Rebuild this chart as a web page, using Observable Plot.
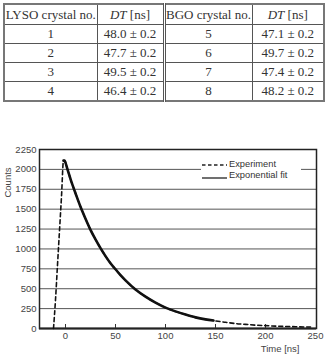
<!DOCTYPE html>
<html>
<head>
<meta charset="utf-8">
<script src="https://cdn.jsdelivr.net/npm/d3@7"></script>
<script src="https://cdn.jsdelivr.net/npm/@observablehq/plot@0.6"></script>
<style>
  html, body { margin: 0; padding: 0; background: #fff; }
  body { width: 327px; height: 360px; position: relative; overflow: hidden; }
  #tbl { position: absolute; left: 3px; top: 3px; width: 320px; border-collapse: collapse;
         font-family: "Liberation Serif", "Times New Roman", serif; font-size: 13px; color: #333;
         border: 2px solid #777; table-layout: fixed; }
  #tbl td { border: 1px solid #555; text-align: center; padding: 0; height: 18px; line-height: 18px; }
  #tbl tr.h td { height: 19px; }
  #tbl td.mid { border-left: 3px double #555; }
  #chart { position: absolute; left: 0; top: 140px; }
  #legend { position: absolute; left: 201px; top: 158px; width: 100px; height: 23px; background: #fff;
            font-family: "Liberation Sans", Arial, sans-serif; font-size: 9.3px; color: #333; }
  #legend .row { position: absolute; left: 0; height: 11px; line-height: 11px; white-space: nowrap; }
  #legend svg { position: absolute; left: 0; top: 0; }
  #legend span { position: absolute; left: 28px; top: 0; }
</style>
</head>
<body>
<table id="tbl"></table>
<div id="chart"></div>
<div id="legend"></div>
<script>
// ---- table data ----
const tableHeader = ["LYSO crystal no.", "DT [ns]", "BGO crystal no.", "DT [ns]"];
const lysoNo = [1, 2, 3, 4];
const lysoDT = ["48.0 ± 0.2", "47.7 ± 0.2", "49.5 ± 0.2", "46.4 ± 0.2"];
const bgoNo = [5, 6, 7, 8];
const bgoDT = ["47.1 ± 0.2", "49.7 ± 0.2", "47.4 ± 0.2", "48.2 ± 0.2"];

// ---- chart data ----
const expTime = [-12, -10, -8, -6, -4, -2, -1, 0, 2, 4, 6, 8, 10, 15, 20, 25, 30, 35, 40, 45, 50, 55, 60, 70, 80, 90, 100, 110, 120, 130, 140, 150, 160, 170, 180, 190, 200, 210, 220, 230, 240, 245];
const expCounts = [0, 360, 800, 1230, 1660, 2110, 2110, 2085, 2000, 1920, 1840, 1770, 1700, 1530, 1380, 1240, 1120, 1010, 910, 820, 745, 670, 605, 490, 400, 325, 262, 215, 175, 140, 115, 95, 78, 62, 52, 42, 36, 30, 26, 22, 19, 18];
const fitTime = [-2, -1, 0, 2, 4, 6, 8, 10, 15, 20, 25, 30, 35, 40, 45, 50, 55, 60, 70, 80, 90, 100, 110, 120, 130, 140, 148];
const fitCounts = [2110, 2110, 2085, 2000, 1920, 1840, 1770, 1700, 1530, 1380, 1240, 1120, 1010, 910, 820, 745, 670, 605, 490, 400, 325, 262, 215, 175, 140, 115, 100];
const xTicks = [0, 50, 100, 150, 200, 250];
const yTicks = [0, 250, 500, 750, 1000, 1250, 1500, 1750, 2000, 2250];
const legendLabels = ["Experiment", "Exponential fit"];
const xLabel = "Time [ns]";
const yLabel = "Counts";

// ---- build table ----
const tbl = document.getElementById("tbl");
const cg = document.createElement("colgroup");
[93, 67, 88, 72].forEach(w => { const c = document.createElement("col"); c.style.width = w + "px"; cg.appendChild(c); });
tbl.appendChild(cg);
function cellHTML(t) {
  return t.startsWith("DT") ? "<i>DT</i>" + t.slice(2) : t;
}
const hr = tbl.insertRow(); hr.className = "h";
tableHeader.forEach((t, i) => { const c = hr.insertCell(); c.innerHTML = cellHTML(t); if (i === 2) c.className = "mid"; });
lysoNo.forEach((n, i) => {
  const r = tbl.insertRow();
  [String(n), lysoDT[i], String(bgoNo[i]), bgoDT[i]].forEach((t, j) => {
    const c = r.insertCell(); c.textContent = t; if (j === 2) c.className = "mid";
  });
});

// ---- chart ----
const expData = expTime.map((t, i) => ({t, c: expCounts[i]}));
const fitData = fitTime.map((t, i) => ({t, c: fitCounts[i]}));
const innerTicks = xTicks.slice(0, -1);
const fmt = d => String(d);

const chart = Plot.plot({
  width: 327,
  height: 220,
  marginLeft: 39,
  marginRight: 11,
  marginTop: 9,
  marginBottom: 32,
  style: {fontFamily: "'Liberation Sans', Arial, sans-serif", fontSize: "9.5px", color: "#444", background: "transparent"},
  x: {domain: [-26, 251]},
  y: {domain: [0, 2250]},
  marks: [
    Plot.gridY(yTicks, {stroke: "#555", strokeOpacity: 1, strokeWidth: 1}),
    Plot.frame({stroke: "#222", strokeWidth: 1.5}),
    Plot.ruleY([0], {stroke: "#222", strokeWidth: 2.2}),
    Plot.tickX(innerTicks, {x: d => d, insetTop: 175, stroke: "#333", strokeWidth: 1}),
    Plot.axisY(yTicks, {tickSize: 0, tickPadding: 3, label: null, fill: "#444", tickFormat: fmt}),
    Plot.axisX(xTicks, {tickSize: 0, tickPadding: 4, label: null, fill: "#444", tickFormat: fmt}),
    Plot.line(fitData, {x: "t", y: "c", stroke: "#111", strokeWidth: 2.6, curve: "monotone-x"}),
    Plot.line(expData, {x: "t", y: "c", stroke: "#111", strokeWidth: 1.6, strokeDasharray: "4,3", curve: "monotone-x"}),
    Plot.text([xLabel], {frameAnchor: "bottom-right", dx: -17, dy: 20, textAnchor: "end", lineAnchor: "middle", fill: "#444"}),
    Plot.text([yLabel], {frameAnchor: "top-left", dx: -32, dy: 33, rotate: -90, textAnchor: "middle", lineAnchor: "middle", fill: "#444"})
  ]
});
document.getElementById("chart").appendChild(chart);

// ---- legend ----
const leg = document.getElementById("legend");
legendLabels.forEach((lab, i) => {
  const row = document.createElement("div");
  row.className = "row";
  row.style.top = (1 + i * 11) + "px";
  row.style.width = "100px";
  const dashed = i === 0;
  row.innerHTML = `<svg width="27" height="11"><line x1="1" x2="26" y1="${dashed ? 6 : 8}" y2="${dashed ? 6 : 8}" stroke="#222" stroke-width="1.3" ${dashed ? 'stroke-dasharray="3.5,2.5"' : ''}/></svg><span>${lab}</span>`;
  leg.appendChild(row);
});
</script>
</body>
</html>
